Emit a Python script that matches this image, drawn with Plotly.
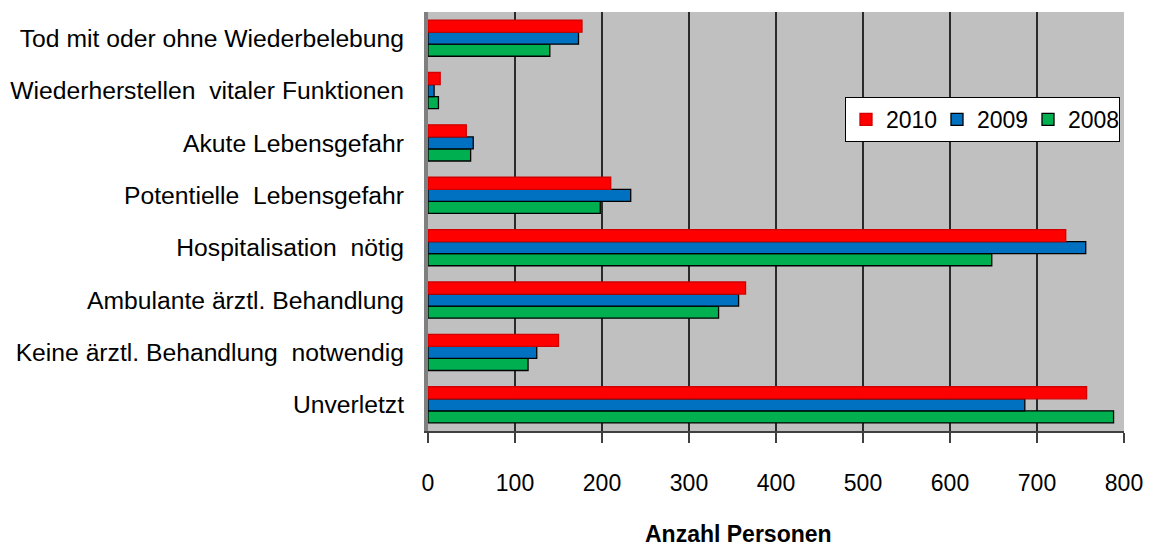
import plotly.graph_objects as go

categories = [
    "Unverletzt",
    "Keine ärztl. Behandlung  notwendig",
    "Ambulante ärztl. Behandlung",
    "Hospitalisation  nötig",
    "Potentielle  Lebensgefahr",
    "Akute Lebensgefahr",
    "Wiederherstellen  vitaler Funktionen",
    "Tod mit oder ohne Wiederbelebung",
]
values_2008 = [788, 115, 334, 648, 198, 49, 12, 140]
values_2009 = [686, 125, 357, 756, 233, 52, 7, 173]
values_2010 = [757, 150, 365, 733, 210, 44, 14, 177]

series = [
    ("2008", values_2008, "#00B050", "#000000"),
    ("2009", values_2009, "#0070C0", "#000000"),
    ("2010", values_2010, "#FF0000", "#D00000"),
]

FONT = "Liberation Sans, Arial, sans-serif"

fig = go.Figure()
for name, vals, color, edge in series:
    fig.add_trace(go.Bar(
        y=categories, x=vals, name=name, orientation="h",
        marker=dict(color=color, line=dict(color=edge, width=1.3)),
    ))

fig.update_layout(
    width=1153, height=547,
    barmode="group", bargap=0.31, bargroupgap=0,
    paper_bgcolor="white", plot_bgcolor="#C0C0C0",
    margin=dict(l=428, r=29, t=12, b=116),
    font=dict(family=FONT, size=23, color="black"),
    legend=dict(
        orientation="h", traceorder="reversed",
        x=(845 - 428) / 696, y=(431 - 97) / 419, xanchor="left", yanchor="top",
        bgcolor="white", bordercolor="black", borderwidth=1,
        font=dict(size=23), itemwidth=30, tracegroupgap=0,
        entrywidth=46, entrywidthmode="pixels",
    ),
    showlegend=True,
)
fig.update_xaxes(
    range=[0, 800], dtick=100, tick0=0, automargin=False,
    showgrid=True, gridcolor="#2a2a2a", gridwidth=2,
    zeroline=False,
    showline=True, linecolor="#404040", linewidth=2,
    ticks="outside", ticklen=10, tickwidth=2, tickcolor="#404040",
    ticklabelstandoff=20,
    tickfont=dict(size=23),
)
fig.update_yaxes(
    showgrid=False, zeroline=False, automargin=False,
    showline=True, linecolor="#7f7f7f", linewidth=4,
    ticks="", ticklabelstandoff=15,
    tickfont=dict(size=24.7),
    range=[-0.5, 7.5],
)
fig.add_annotation(
    text="<b>Anzahl Personen</b>", xref="paper", yref="paper",
    x=(738 - 428) / 696, y=(431 - 534) / 419,
    xanchor="center", yanchor="middle", showarrow=False,
    font=dict(size=23, family=FONT),
)

fig.write_html("out.html", config={"displayModeBar": False},
               post_script="document.body.style.margin='0';")
